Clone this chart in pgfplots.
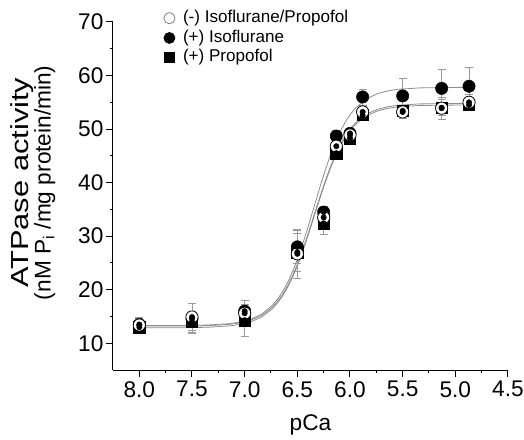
\documentclass[border=0pt]{standalone}
\usepackage{fontspec}
\setmainfont{Liberation Sans}
\usepackage{graphicx}
\usepackage{pgfplots}
\usepackage{pgfplotstable}
\pgfplotsset{compat=1.18}
\definecolor{errGray}{HTML}{9A9A9A}
\definecolor{fitGray}{HTML}{8C8C8C}

% measured points: pCa, mean, error
\pgfplotstableread{
x y e
8.00 13.4 1.5
7.50 14.9 2.5
7.00 15.6 2.4
6.50 26.7 4.5
6.25 33.5 1.5
6.13 46.8 1.0
6.00 48.9 1.0
5.88 53.2 1.0
5.50 53.2 1.2
5.13 53.9 2.0
4.87 55.0 1.5
}\ctrl
\pgfplotstableread{
x y e
8.00 13.5 1.2
7.50 14.6 2.8
7.00 16.0 2.0
6.50 28.0 3.0
6.25 34.5 1.0
6.13 48.7 1.0
6.00 49.2 1.0
5.88 56.0 1.5
5.50 56.2 3.2
5.13 57.6 3.5
4.87 58.0 3.5
}\iso
\pgfplotstableread{
x y e
8.00 13.0 1.0
7.50 14.0 2.0
7.00 14.3 3.0
6.50 27.0 3.5
6.25 32.4 2.0
6.13 45.5 1.0
6.00 48.3 1.0
5.88 52.6 1.0
5.50 53.4 1.0
5.13 54.0 1.5
4.87 54.5 1.0
}\prop

% fitted curves
\pgfplotstableread{
x y1 y2 y3
8.00 13.20 13.30 12.90
7.50 13.21 13.31 12.91
7.34 13.30 13.41 13.00
7.14 13.54 13.66 13.24
7.04 13.82 13.96 13.52
6.94 14.31 14.49 14.01
6.84 15.18 15.42 14.88
6.74 16.68 17.02 16.38
6.69 17.76 18.17 17.46
6.64 19.12 19.63 18.82
6.59 20.81 21.44 20.51
6.54 22.85 23.62 22.55
6.49 25.24 26.18 24.94
6.44 27.96 29.09 27.66
6.39 30.91 32.24 30.61
6.34 34.00 35.55 33.70
6.29 37.09 38.86 36.79
6.24 40.04 42.01 39.74
6.19 42.76 44.92 42.46
6.14 45.15 47.48 44.85
6.09 47.19 49.66 46.89
6.04 48.88 51.47 48.58
5.99 50.24 52.93 49.94
5.94 51.32 54.08 51.02
5.84 52.82 55.68 52.52
5.74 53.69 56.61 53.39
5.64 54.18 57.14 53.88
5.54 54.46 57.44 54.16
5.34 54.70 57.69 54.40
5.09 54.77 57.77 54.47
4.85 54.80 57.80 54.50
}\fits

\begin{document}
\begin{tikzpicture}
\begin{axis}[
  scale only axis,
  width=296.25pt, height=261pt,
  xmin=4.5, xmax=8.25, x dir=reverse,
  ymin=5, ymax=70,
  axis lines=left,
  axis line style={-, line width=0.75pt},
  xtick={4.5,5.0,...,8.0},
  minor x tick num=1,
  ytick={10,20,...,70},
  minor y tick num=1,
  tick align=outside,
  major tick length=5pt,
  minor tick length=2.6pt,
  tick style={line width=0.75pt, black},
  /pgf/number format/assume math mode=true,
  xticklabel style={/pgf/number format/.cd, fixed, fixed zerofill, precision=1},
  ticklabel style={font=\fontsize{17}{20}\selectfont},
  yticklabel style={inner xsep=2pt},
  xlabel={pCa},
  xlabel style={font=\fontsize{17}{20}\selectfont, at={(axis description cs:0.5,-0.158)}, anchor=center},
  ylabel={{\fontsize{18.5}{17}\selectfont\scalebox{1.25}[1]{ATPase activity}}\\{\fontsize{17}{17}\selectfont (nM P\textsubscript{i} /mg protein/min)}},
  ylabel style={font=\fontsize{17}{17}\selectfont, align=center, at={(axis description cs:-0.203,0.538)}, anchor=center},
  legend cell align=left,
  legend image code/.code={\draw[mark repeat=2,mark phase=2,#1] plot coordinates {(0cm,0cm) (0.25cm,0cm) (0.5cm,0cm)};},
  legend style={at={(axis description cs:0.128,1.04)}, anchor=north west, draw=none, fill=none,
    font=\fontsize{12.8}{14}\selectfont, inner sep=0pt, row sep=0pt,
    /tikz/every odd column/.append style={column sep=5pt},
    nodes={inner sep=1pt, text height=9.6pt, text depth=3.2pt}},
]
% fitted curves
\addplot[fitGray, line width=0.6pt, forget plot] table[x=x, y=y1] {\fits};
\addplot[fitGray, line width=0.6pt, forget plot] table[x=x, y=y2] {\fits};
\addplot[fitGray, line width=0.6pt, forget plot] table[x=x, y=y3] {\fits};
% markers
\addplot[only marks, mark=square*, mark size=4.2pt, mark options={fill=black, draw=black}, forget plot] table[x=x, y=y] {\prop};
\addplot[only marks, mark=*, mark size=4.6pt, mark options={fill=black, draw=black}, forget plot] table[x=x, y=y] {\iso};
\addplot[only marks, mark=*, mark size=4.6pt, mark options={fill=white, draw=black, line width=0.6pt}, forget plot] table[x=x, y=y] {\ctrl};
% error bars
\addplot[only marks, mark=none, forget plot, error bars/.cd, y dir=both, y explicit,
  error bar style={errGray, line width=0.5pt}, error mark options={rotate=90, mark size=3pt, errGray, line width=0.5pt}]
  table[x=x, y=y, y error=e] {\prop};
\addplot[only marks, mark=none, forget plot, error bars/.cd, y dir=both, y explicit,
  error bar style={errGray, line width=0.5pt}, error mark options={rotate=90, mark size=3pt, errGray, line width=0.5pt}]
  table[x=x, y=y, y error=e] {\iso};
\addplot[only marks, mark=none, forget plot, error bars/.cd, y dir=both, y explicit,
  error bar style={errGray, line width=0.5pt}, error mark options={rotate=90, mark size=3pt, errGray, line width=0.5pt}]
  table[x=x, y=y, y error=e] {\ctrl};
% legend entries
\addlegendimage{only marks, mark=*, mark size=4.2pt, mark options={fill=white, draw=gray, line width=0.6pt}}
\addlegendentry{(-) Isoflurane/Propofol}
\addlegendimage{only marks, mark=*, mark size=4.2pt, mark options={fill=black, draw=black}}
\addlegendentry{(+) Isoflurane}
\addlegendimage{only marks, mark=square*, mark size=3.8pt, mark options={fill=black, draw=black}}
\addlegendentry{(+) Propofol}
\end{axis}
\pgfresetboundingbox
\path[use as bounding box] (-84.75pt,-51.75pt) rectangle (308.25pt,277.5pt);
\end{tikzpicture}
\end{document}
